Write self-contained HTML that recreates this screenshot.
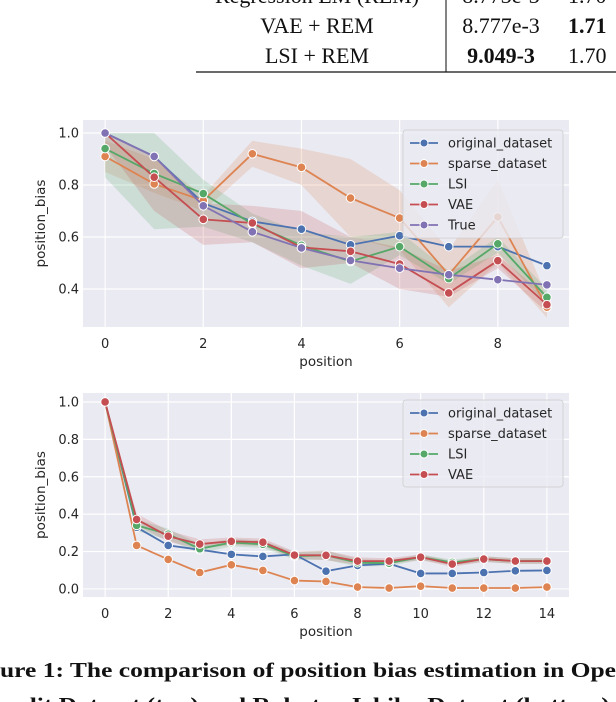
<!DOCTYPE html>
<html><head><meta charset="utf-8"><style>
html,body{margin:0;padding:0;background:#fff;width:616px;height:702px;overflow:hidden}
svg{display:block}
</style></head><body>
<svg id="root" width="616" height="702" xmlns="http://www.w3.org/2000/svg">
<g font-family="Liberation Serif, serif" font-size="22" fill="#111">
<text x="317" y="3" text-anchor="middle">Regression EM (REM)</text>
<text x="501" y="3" text-anchor="middle">8.773e-3</text>
<text x="568" y="3">1.70</text>
<text x="317" y="33" text-anchor="middle">VAE + REM</text>
<text x="501" y="33" text-anchor="middle">8.777e-3</text>
<text x="568" y="33" font-weight="bold">1.71</text>
<text x="317" y="63" text-anchor="middle">LSI + REM</text>
<text x="501" y="63" text-anchor="middle" font-weight="bold">9.049-3</text>
<text x="568" y="63">1.70</text>
<line x1="446" y1="0" x2="446" y2="72" stroke="#333" stroke-width="1.2"/>
<line x1="196" y1="72" x2="616" y2="72" stroke="#111" stroke-width="1.3"/>
</g>
<g id="chart1"></g>
<g id="chart2"></g>
<g font-family="Liberation Serif, serif" font-weight="bold" font-size="21" fill="#111">
<text x="0" y="677" textLength="616" lengthAdjust="spacingAndGlyphs">ure 1: The comparison of position bias estimation in Ope</text>
<text x="10" y="712" textLength="606" lengthAdjust="spacingAndGlyphs">adit Dataset (top) and Rakuten Ichiba Dataset (bottom).</text>
</g>
</svg>
<script>
const NS='http://www.w3.org/2000/svg';
// ---- chart 1 data ----
const c1Positions=[0,1,2,3,4,5,6,7,8,9];
const c1Names=['original_dataset','sparse_dataset','LSI','VAE','True'];
const c1Original=[1.0,0.91,0.73,0.66,0.63,0.57,0.605,0.563,0.563,0.49];
const c1Sparse=[0.91,0.804,0.74,0.92,0.868,0.75,0.673,0.455,0.677,0.33];
const c1LSI=[0.94,0.844,0.767,0.65,0.568,0.506,0.563,0.44,0.574,0.368];
const c1VAE=[1.0,0.83,0.668,0.654,0.56,0.545,0.496,0.385,0.509,0.34];
const c1True=[1.0,0.91,0.72,0.62,0.558,0.51,0.48,0.455,0.436,0.416];
const c1SparseLo=[0.85,0.77,0.70,0.87,0.80,0.60,0.55,0.33,0.50,0.29];
const c1SparseHi=[0.97,0.90,0.76,0.97,0.94,0.90,0.78,0.55,0.82,0.37];
const c1LSILo=[0.83,0.63,0.64,0.58,0.49,0.42,0.53,0.42,0.54,0.34];
const c1LSIHi=[1.0,1.0,0.82,0.69,0.62,0.60,0.62,0.47,0.60,0.40];
const c1VAELo=[0.95,0.70,0.57,0.58,0.48,0.50,0.40,0.37,0.48,0.31];
const c1VAEHi=[1.0,0.91,0.73,0.72,0.70,0.60,0.56,0.47,0.53,0.37];
const c1YTicks=[0.4,0.6,0.8,1.0];
const c1XTicks=[0,2,4,6,8];
// ---- chart 2 data ----
const c2Positions=[0,1,2,3,4,5,6,7,8,9,10,11,12,13,14];
const c2Names=['original_dataset','sparse_dataset','LSI','VAE'];
const c2Original=[1.0,0.33,0.233,0.21,0.185,0.174,0.185,0.095,0.126,0.135,0.083,0.083,0.088,0.097,0.099];
const c2Sparse=[1.0,0.233,0.158,0.088,0.129,0.099,0.045,0.04,0.01,0.005,0.015,0.005,0.005,0.005,0.01];
const c2LSI=[1.0,0.34,0.293,0.215,0.248,0.239,0.176,0.18,0.14,0.138,0.17,0.142,0.16,0.149,0.15];
const c2VAE=[1.0,0.372,0.282,0.24,0.255,0.25,0.181,0.18,0.149,0.149,0.17,0.133,0.16,0.149,0.149];
const c2Spread=[0,0.03,0.03,0.025,0.02,0.02,0.02,0.025,0.02,0.015,0.015,0.015,0.015,0.015,0.015];
const c2YTicks=[0.0,0.2,0.4,0.6,0.8,1.0];
const c2XTicks=[0,2,4,6,8,10,12,14];
const colors=['#4c72b0','#dd8452','#55a868','#c44e52','#8172b3'];

function mk(parent,tag,attrs){const e=document.createElementNS(NS,tag);for(const k in attrs)e.setAttribute(k,attrs[k]);parent.appendChild(e);return e;}

function drawChart(g,cfg){
  const {left,right,top,bottom,xMin,xMax,yMin,yMax}=cfg;
  const sx=v=>left+(v-xMin)/(xMax-xMin)*(right-left);
  const sy=v=>bottom-(v-yMin)/(yMax-yMin)*(bottom-top);
  const bg=mk(g,'rect',{x:left,y:top,width:right-left,height:bottom-top,fill:'#eaeaf2'});
  
  
  cfg.yTicks.forEach(t=>{
    const l=mk(g,'line',{x1:left,x2:right,y1:sy(t),y2:sy(t),stroke:'#fff','stroke-width':1.2});
    
    
    const tx=mk(g,'text',{x:left-4,y:sy(t)+4.5,'text-anchor':'end','font-size':13,fill:'#262626','font-family':'DejaVu Sans, sans-serif'});
    tx.textContent=t.toFixed(1);
    
    
  });
  cfg.xTicks.forEach(t=>{
    const l=mk(g,'line',{x1:sx(t),x2:sx(t),y1:top,y2:bottom,stroke:'#fff','stroke-width':1.2});
    
    
    const tx=mk(g,'text',{x:sx(t),y:bottom+21,'text-anchor':'middle','font-size':13,fill:'#262626','font-family':'DejaVu Sans, sans-serif'});
    tx.textContent=String(t);
    
    
  });
  const xl=mk(g,'text',{x:(left+right)/2,y:bottom+39,'text-anchor':'middle','font-size':13.5,fill:'#262626','font-family':'DejaVu Sans, sans-serif'});
  xl.textContent='position';
  
  
  const ycx=left-38, ycy=(top+bottom)/2;
  const yl=mk(g,'text',{x:ycx,y:ycy,'text-anchor':'middle','font-size':13.5,fill:'#262626','font-family':'DejaVu Sans, sans-serif',transform:`rotate(-90 ${ycx} ${ycy})`});
  yl.textContent='position_bias';
  
  
  // bands
  cfg.series.forEach((s,i)=>{
    if(!s.lo) return;
    let d='M'+cfg.x.map((x,j)=>sx(x)+','+sy(s.hi[j])).join(' L');
    d+=' L'+cfg.x.map((x,j)=>[sx(x),sy(s.lo[j])]).reverse().map(p=>p.join(',')).join(' L')+' Z';
    const p=mk(g,'path',{d,fill:colors[i],'fill-opacity':0.2,stroke:'none'});
    
    
  });
  cfg.series.forEach((s,i)=>{
    const pl=mk(g,'polyline',{points:cfg.x.map((x,j)=>sx(x)+','+sy(s.y[j])).join(' '),fill:'none',stroke:colors[i],'stroke-width':1.8});
    
    
    cfg.x.forEach((x,j)=>{
      const c=mk(g,'circle',{cx:sx(x),cy:sy(s.y[j]),r:4.3,fill:colors[i],stroke:'#fff','stroke-width':1});
      
      
    });
  });
  // legend
  const L=cfg.legend;
  const lg=mk(g,'g',{});
  
  
  const box=mk(lg,'rect',{x:L.x,y:L.y,width:L.w,height:L.h,rx:3,fill:'#eaeaf2','fill-opacity':0.8,stroke:'#ccc','stroke-width':0.8});
  
  
  cfg.names.forEach((n,i)=>{
    const yy=L.y+13+i*20.5;
    const e=mk(lg,'g',{});
    
    
    mk(e,'line',{x1:L.x+7,x2:L.x+35,y1:yy,y2:yy,stroke:colors[i],'stroke-width':1.8});
    mk(e,'circle',{cx:L.x+21,cy:yy,r:4,fill:colors[i],stroke:'#fff','stroke-width':1});
    const t=mk(e,'text',{x:L.x+45,y:yy+4.5,'font-size':13,fill:'#262626','font-family':'DejaVu Sans, sans-serif'});
    t.textContent=n;
  });
}
drawChart(document.getElementById('chart1'),{
  left:83,right:569,top:120,bottom:327,xMin:-0.45,xMax:9.45,yMin:0.254,yMax:1.05,
  x:c1Positions,names:c1Names,yTicks:c1YTicks,xTicks:c1XTicks,
  series:[{key:'original',y:c1Original},{key:'sparse',y:c1Sparse,lo:c1SparseLo,hi:c1SparseHi},
    {key:'lsi',y:c1LSI,lo:c1LSILo,hi:c1LSIHi},{key:'vae',y:c1VAE,lo:c1VAELo,hi:c1VAEHi},{key:'true',y:c1True}],
  legend:{x:403,y:130,w:160,h:108}
});
drawChart(document.getElementById('chart2'),{
  left:83,right:569,top:393,bottom:597,xMin:-0.7,xMax:14.7,yMin:-0.043,yMax:1.048,
  x:c2Positions,names:c2Names,yTicks:c2YTicks,xTicks:c2XTicks,
  series:[{key:'original',y:c2Original},{key:'sparse',y:c2Sparse},
    {key:'lsi',y:c2LSI,lo:c2LSI.map((v,i)=>v-c2Spread[i]),hi:c2LSI.map((v,i)=>v+c2Spread[i])},
    {key:'vae',y:c2VAE,lo:c2VAE.map((v,i)=>v-c2Spread[i]),hi:c2VAE.map((v,i)=>v+c2Spread[i])}],
  legend:{x:403,y:400,w:160,h:87}
});
</script>
</body></html>
